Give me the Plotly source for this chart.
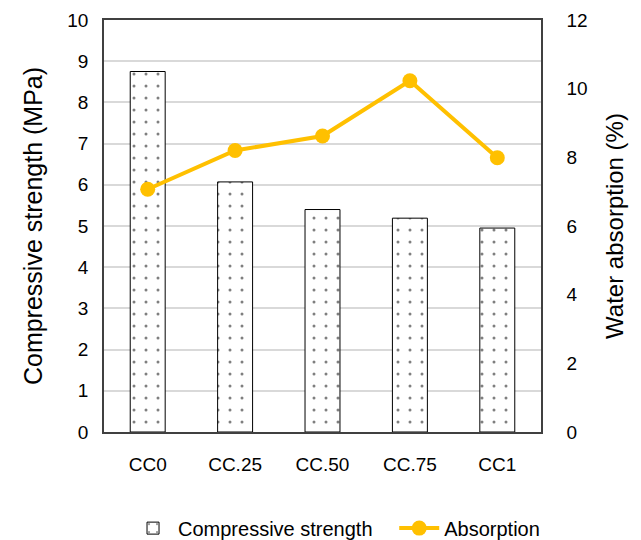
import plotly.graph_objects as go

# Mix designs and measured properties
categories = ["CC0", "CC.25", "CC.50", "CC.75", "CC1"]
compressive_strength = [8.75, 6.07, 5.40, 5.19, 4.95]   # MPa
water_absorption = [7.07, 8.20, 8.62, 10.23, 7.99]      # %

left_ticks = list(range(0, 11))
right_ticks = list(range(0, 13, 2))

FONT = "Liberation Sans, Arial, sans-serif"
AXIS_COLOR = "#404040"
GRID_COLOR = "#d9d9d9"
LINE_COLOR = "#FFC000"

fig = go.Figure()

fig.add_trace(go.Bar(
    x=categories,
    y=compressive_strength,
    name="Compressive strength\u00a0\u00a0\u00a0",
    width=0.4,
    marker=dict(
        color="white",
        line=dict(color="black", width=1),
        pattern=dict(shape=".", fgcolor="black", bgcolor="white",
                     size=12, solidity=0.05),
    ),
    yaxis="y",
))

fig.add_trace(go.Scatter(
    x=categories,
    y=water_absorption,
    name="Absorption",
    mode="lines+markers",
    line=dict(color=LINE_COLOR, width=4),
    marker=dict(color=LINE_COLOR, size=15),
    yaxis="y2",
))

fig.update_layout(
    width=641,
    height=540,
    margin=dict(l=104, r=100, t=20, b=108, autoexpand=False),
    paper_bgcolor="white",
    plot_bgcolor="white",
    font=dict(family=FONT, size=19, color="black"),
    showlegend=True,
    legend=dict(
        orientation="h",
        xref="container", x=0.525, xanchor="center",
        yref="container", y=0.022, yanchor="middle",
        font=dict(size=20),
        itemwidth=40,
        tracegroupgap=0,
    ),
    xaxis=dict(
        type="category",
        showline=True,
        linecolor=AXIS_COLOR,
        linewidth=1.5,
        mirror=True,
        showgrid=False,
        ticks="",
        ticklabelstandoff=14,
        tickfont=dict(size=19),
    ),
    yaxis=dict(
        range=[0, 10],
        tickvals=left_ticks,
        showline=True,
        linecolor=AXIS_COLOR,
        linewidth=1.5,
        showgrid=True,
        gridcolor=GRID_COLOR,
        gridwidth=2,
        zeroline=False,
        ticks="",
        ticklabelstandoff=10,
        tickfont=dict(size=19),
        title=dict(text="Compressive strength\u00a0(MPa)", font=dict(size=25), standoff=18),
    ),
    yaxis2=dict(
        range=[0, 12],
        tickvals=right_ticks,
        overlaying="y",
        side="right",
        showline=True,
        linecolor=AXIS_COLOR,
        linewidth=1.5,
        showgrid=False,
        zeroline=False,
        ticks="",
        ticklabelstandoff=20,
        tickfont=dict(size=19),
        title=dict(text="Water absorption\u00a0(%)", font=dict(size=24), standoff=20),
    ),
    bargap=0.6,
)

fig.write_html("out.html")
